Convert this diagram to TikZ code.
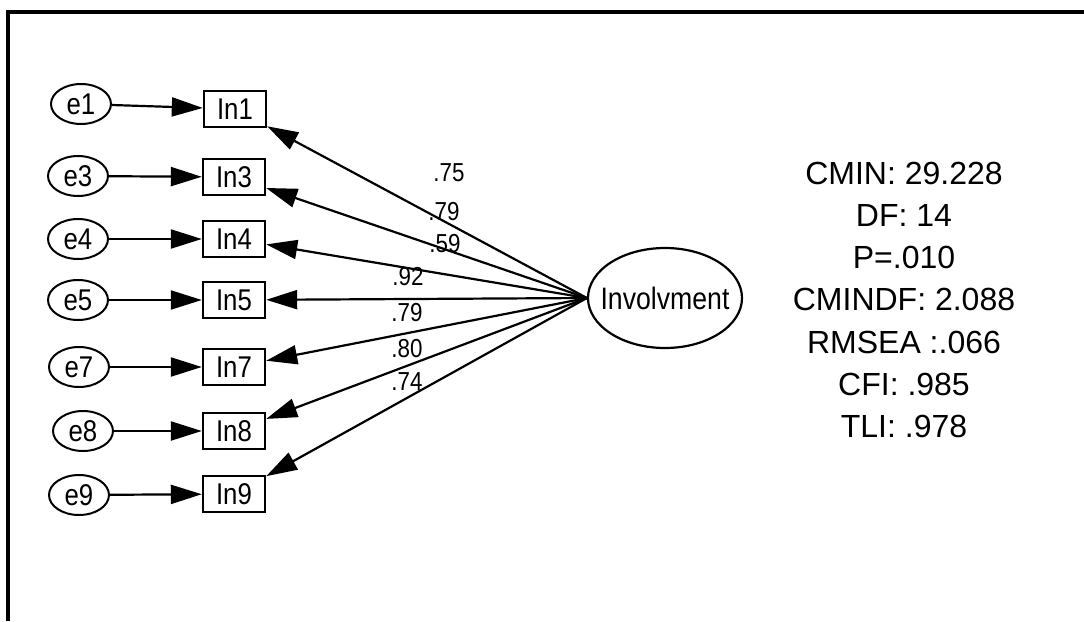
\documentclass[tikz,border=0pt]{standalone}
\usepackage{fontspec}
\setmainfont{Liberation Sans}
\newfontfamily\narrowsans{Liberation Sans}[FakeStretch=0.86]
\usetikzlibrary{arrows.meta,shapes.geometric}

\begin{document}
\begin{tikzpicture}[x=1pt,y=-1pt,
  errvar/.style={ellipse, draw, line width=2pt, minimum width=60pt,
    minimum height=40pt, inner sep=0pt,
    font=\narrowsans\fontsize{30}{30}\selectfont},
  obsvar/.style={rectangle, draw, line width=2.4pt, minimum width=62pt,
    minimum height=36pt, inner sep=0pt,
    font=\narrowsans\fontsize{30}{30}\selectfont},
  latvar/.style={ellipse, draw, line width=2.2pt, minimum width=154pt,
    minimum height=100pt, inner sep=0pt,
    font=\narrowsans\fontsize{31}{31}\selectfont},
  link/.style={line width=2.2pt, -{Triangle[length=31pt,width=19pt]}},
  coef/.style={inner sep=0pt, font=\narrowsans\fontsize{26}{26}\selectfont},
  statline/.style={inner sep=0pt, font=\fontsize{32}{32}\selectfont},
  frameline/.style={line width=4pt}
]
\useasboundingbox (0,0) rectangle (1084,621);

% open frame: top and left edges
\draw[frameline] (8,621) -- (8,12) -- (1084,12);

% error terms
\node[errvar] (e1) at (81,104) {e1};
\node[errvar] (e3) at (78,176) {e3};
\node[errvar] (e4) at (78,239) {e4};
\node[errvar] (e5) at (78,300) {e5};
\node[errvar] (e7) at (79,367) {e7};
\node[errvar] (e8) at (83,431) {e8};
\node[errvar] (e9) at (79,495) {e9};

% observed indicators
\node[obsvar] (In1) at (235,109) {In1};
\node[obsvar] (In3) at (234,177) {In3};
\node[obsvar] (In4) at (234,239) {In4};
\node[obsvar] (In5) at (234,300) {In5};
\node[obsvar] (In7) at (234,367) {In7};
\node[obsvar] (In8) at (234,431) {In8};
\node[obsvar] (In9) at (234,494) {In9};

% latent factor (zero-width text box keeps the ellipse at its set size)
\node[latvar] (Inv) at (665,298) {\makebox[0pt]{Involvment}};

% error paths and factor loadings
\foreach \k in {1,3,4,5,7,8,9} {
  \draw[link] (e\k) -- (In\k);
  \draw[link] (Inv.west) -- (In\k);
}

% standardized loadings
\node[coef] (c1) at (449,173) {.75};
\node[coef] (c3) at (444,212) {.79};
\node[coef] (c4) at (445,244) {.59};
\node[coef] (c5) at (408,277) {.92};
\node[coef] (c7) at (407,313) {.79};
\node[coef] (c8) at (407,349) {.80};
\node[coef] (c9) at (407,382) {.74};

% model fit summary
\node[statline] (s1) at (904,173.0) {CMIN: 29.228};
\node[statline] (s2) at (904,215.3) {DF: 14};
\node[statline] (s3) at (904,257.6) {P=.010};
\node[statline] (s4) at (904,299.9) {CMINDF: 2.088};
\node[statline] (s5) at (904,342.2) {RMSEA :.066};
\node[statline] (s6) at (904,384.5) {CFI: .985};
\node[statline] (s7) at (904,426.8) {TLI: .978};
\end{tikzpicture}
\end{document}
